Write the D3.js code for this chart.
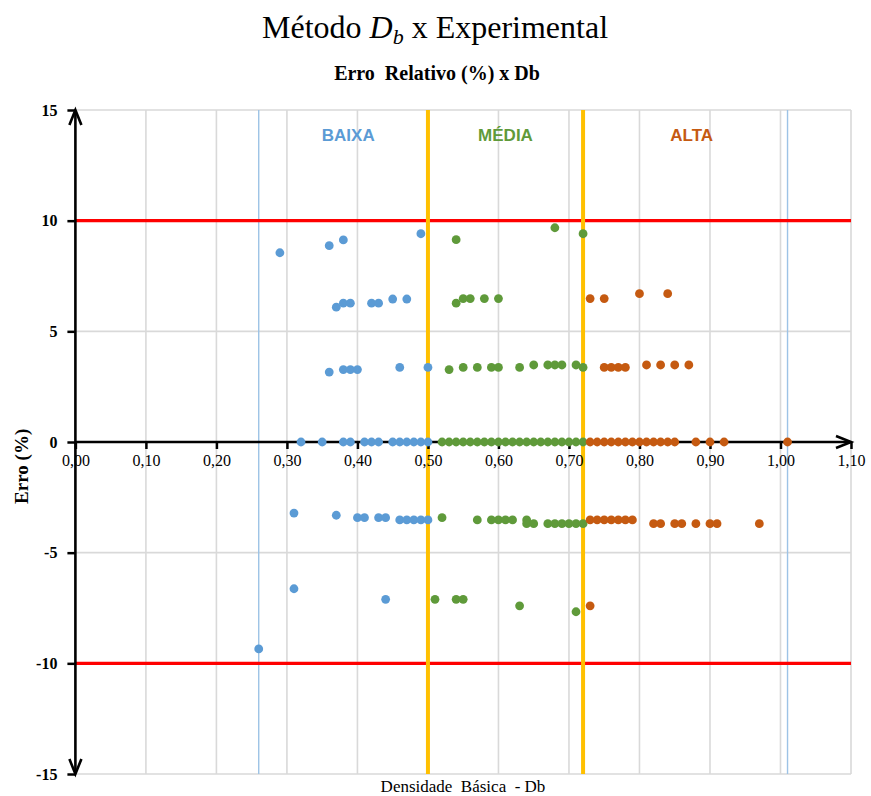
<!DOCTYPE html>
<html>
<head>
<meta charset="utf-8">
<script src="https://cdn.jsdelivr.net/npm/d3@7"></script>
<style>
  html, body { margin: 0; padding: 0; background: #fff; }
  svg { display: block; }
</style>
</head>
<body>
<svg id="chart" width="871" height="796"></svg>
<script>
// Relative error (%) against basic density, grouped by density class
const baixa = [
  [0.29, 8.55], [0.36, 8.87], [0.38, 9.13], [0.49, 9.41],
  [0.37, 6.09], [0.38, 6.27], [0.39, 6.27], [0.42, 6.27], [0.43, 6.27], [0.45, 6.46], [0.47, 6.46],
  [0.36, 3.16], [0.38, 3.27], [0.39, 3.27], [0.40, 3.27], [0.46, 3.37], [0.50, 3.37],
  [0.32, 0], [0.35, 0], [0.38, 0], [0.39, 0], [0.41, 0], [0.42, 0], [0.43, 0],
  [0.45, 0], [0.46, 0], [0.47, 0], [0.48, 0], [0.49, 0], [0.50, 0],
  [0.31, -3.21], [0.37, -3.31], [0.40, -3.42], [0.41, -3.42], [0.43, -3.42], [0.44, -3.42],
  [0.46, -3.52], [0.47, -3.52], [0.48, -3.52], [0.49, -3.52], [0.50, -3.52],
  [0.31, -6.63], [0.44, -7.11], [0.26, -9.35]
];

const media = [
  [0.54, 9.14], [0.68, 9.68], [0.72, 9.41],
  [0.54, 6.27], [0.55, 6.48], [0.56, 6.48], [0.58, 6.48], [0.60, 6.48],
  [0.53, 3.27], [0.55, 3.37], [0.57, 3.37], [0.59, 3.37], [0.60, 3.37], [0.63, 3.37],
  [0.65, 3.48], [0.67, 3.48], [0.68, 3.48], [0.69, 3.48], [0.71, 3.48], [0.72, 3.37],
  [0.52, 0], [0.53, 0], [0.54, 0], [0.55, 0], [0.56, 0], [0.57, 0], [0.58, 0],
  [0.59, 0], [0.60, 0], [0.61, 0], [0.62, 0], [0.63, 0], [0.64, 0], [0.65, 0],
  [0.66, 0], [0.67, 0], [0.68, 0], [0.69, 0], [0.70, 0], [0.71, 0], [0.72, 0],
  [0.52, -3.42], [0.57, -3.52], [0.59, -3.52], [0.60, -3.52], [0.61, -3.52], [0.62, -3.52],
  [0.64, -3.52], [0.64, -3.69], [0.65, -3.69], [0.67, -3.69], [0.68, -3.69], [0.69, -3.69],
  [0.70, -3.69], [0.71, -3.69], [0.72, -3.69],
  [0.51, -7.11], [0.54, -7.11], [0.55, -7.11], [0.63, -7.40], [0.71, -7.67]
];

const alta = [
  [0.73, 6.48], [0.75, 6.48], [0.80, 6.70], [0.84, 6.70],
  [0.75, 3.37], [0.76, 3.37], [0.77, 3.37], [0.78, 3.37],
  [0.81, 3.48], [0.83, 3.48], [0.85, 3.48], [0.87, 3.48],
  [0.73, 0], [0.74, 0], [0.75, 0], [0.76, 0], [0.77, 0], [0.78, 0], [0.79, 0],
  [0.80, 0], [0.81, 0], [0.82, 0], [0.83, 0], [0.84, 0], [0.85, 0],
  [0.88, 0], [0.90, 0], [0.92, 0], [1.01, 0],
  [0.73, -3.52], [0.74, -3.52], [0.75, -3.52], [0.76, -3.52], [0.77, -3.52], [0.78, -3.52], [0.79, -3.52],
  [0.82, -3.69], [0.83, -3.69], [0.85, -3.69], [0.86, -3.69], [0.88, -3.69],
  [0.90, -3.69], [0.91, -3.69], [0.97, -3.69],
  [0.73, -7.40]
];

const xTicks = [0, 0.1, 0.2, 0.3, 0.4, 0.5, 0.6, 0.7, 0.8, 0.9, 1.0, 1.1];
const yTicks = [-15, -10, -5, 0, 5, 10, 15];
const errorLimits = [10, -10];          // acceptable error band
const classBounds = [0.50, 0.72];       // BAIXA | MÉDIA | ALTA
const rangeBounds = [0.26, 1.01];       // sampled density range
const classLabels = [
  { text: "BAIXA", x: 0.387, color: "#5b9bd5" },
  { text: "MÉDIA", x: 0.61, color: "#5f9a3a" },
  { text: "ALTA",  x: 0.874, color: "#c55a11" }
];

const series = [
  { name: "BAIXA", data: baixa, color: "#5b9bd5" },
  { name: "MÉDIA", data: media, color: "#5f9a3a" },
  { name: "ALTA",  data: alta,  color: "#c55a11" }
];

const svg = d3.select("#chart");
const margin = { left: 75.4, right: 20, top: 110, bottom: 22 };
const W = 871, H = 796;

const x = d3.scaleLinear().domain([0, 1.1]).range([margin.left, W - margin.right]);
const y = d3.scaleLinear().domain([-15, 15]).range([H - margin.bottom, margin.top]);

const serif = "Liberation Serif";
const sans = "Liberation Sans";

// Titles
const title = svg.append("text")
  .attr("x", 435).attr("y", 38)
  .attr("text-anchor", "middle")
  .attr("font-family", serif).attr("font-size", 32)
  .attr("fill", "#000");
title.append("tspan").text("Método ");
title.append("tspan").attr("font-style", "italic").text("D");
title.append("tspan").attr("font-style", "italic").attr("font-size", 22).attr("dy", 6).text("b");
title.append("tspan").attr("dy", -6).text(" x Experimental");

svg.append("text")
  .attr("x", 437).attr("y", 80)
  .attr("text-anchor", "middle")
  .attr("font-family", serif).attr("font-size", 20).attr("font-weight", "bold")
  .attr("fill", "#000")
  .attr("xml:space", "preserve")
  .text("Erro  Relativo (%) x Db");

// Grid
const grid = svg.append("g");
grid.selectAll("line.v").data(xTicks.slice(1)).join("line")
  .attr("x1", d => x(d)).attr("x2", d => x(d))
  .attr("y1", y(15)).attr("y2", y(-15))
  .attr("stroke", "#d9d9d9").attr("stroke-width", 1.6);
grid.selectAll("line.h").data(yTicks).join("line")
  .attr("x1", x(0)).attr("x2", x(1.1))
  .attr("y1", d => y(d)).attr("y2", d => y(d))
  .attr("stroke", "#d9d9d9").attr("stroke-width", 1.6);

// Reference lines
svg.selectAll("line.range").data(rangeBounds).join("line")
  .attr("x1", d => x(d)).attr("x2", d => x(d))
  .attr("y1", y(15)).attr("y2", y(-15))
  .attr("stroke", "#9dc3e6").attr("stroke-width", 1.4);
svg.selectAll("line.limit").data(errorLimits).join("line")
  .attr("x1", x(0)).attr("x2", x(1.1))
  .attr("y1", d => y(d)).attr("y2", d => y(d))
  .attr("stroke", "#ff0000").attr("stroke-width", 3.2);
svg.selectAll("line.bound").data(classBounds).join("line")
  .attr("x1", d => x(d)).attr("x2", d => x(d))
  .attr("y1", y(15)).attr("y2", y(-15))
  .attr("stroke", "#ffc000").attr("stroke-width", 4);

// Class labels
svg.selectAll("text.cls").data(classLabels).join("text")
  .attr("x", d => x(d.x)).attr("y", 141)
  .attr("text-anchor", "middle")
  .attr("font-family", sans).attr("font-size", 17).attr("font-weight", "bold")
  .attr("fill", d => d.color)
  .text(d => d.text);

// Axes
const axisX = d3.axisBottom(x).tickValues(xTicks).tickSize(7)
  .tickFormat(d => d3.format(".2f")(d).replace(".", ","));
const gx = svg.append("g").attr("transform", `translate(0,${y(0)})`).call(axisX);
gx.select(".domain").remove();
gx.selectAll(".tick line").attr("stroke", "#000").attr("stroke-width", 2.5);
gx.selectAll(".tick text")
  .attr("font-family", serif).attr("font-size", 16).attr("fill", "#000")
  .attr("y", 13).attr("dy", "0.71em");

const axisY = d3.axisLeft(y).tickValues(yTicks).tickSize(8).tickFormat(d => String(d));
const gy = svg.append("g").attr("transform", `translate(${x(0)},0)`).call(axisY);
gy.select(".domain").remove();
gy.selectAll(".tick line").attr("stroke", "#000").attr("stroke-width", 2.5);
gy.selectAll(".tick text")
  .attr("font-family", serif).attr("font-size", 16).attr("font-weight", "bold")
  .attr("fill", "#000").attr("x", -18);

// Axis lines with arrowheads
svg.append("line")
  .attr("x1", x(0)).attr("x2", x(1.1) - 1)
  .attr("y1", y(0)).attr("y2", y(0))
  .attr("stroke", "#000").attr("stroke-width", 2.6);
svg.append("line")
  .attr("x1", x(0)).attr("x2", x(0))
  .attr("y1", y(15) + 1).attr("y2", y(-15) - 1)
  .attr("stroke", "#000").attr("stroke-width", 2.6);

const arrow = (tipX, tipY, dx, dy) => {
  // open chevron pointing along (dx, dy)
  const len = 15, half = 6;
  const px = -dy, py = dx;
  const bx = tipX - dx * len, by = tipY - dy * len;
  svg.append("path")
    .attr("d", `M${bx + px * half},${by + py * half}L${tipX},${tipY}L${bx - px * half},${by - py * half}`)
    .attr("fill", "none").attr("stroke", "#000").attr("stroke-width", 2.6)
    .attr("stroke-linejoin", "miter");
};
arrow(x(1.1), y(0), 1, 0);
arrow(x(0), y(15), 0, -1);
arrow(x(0), y(-15), 0, 1);

// Axis titles
svg.append("text")
  .attr("transform", `translate(28,${y(-1.1)}) rotate(-90)`)
  .attr("text-anchor", "middle")
  .attr("font-family", serif).attr("font-size", 19).attr("font-weight", "bold")
  .attr("fill", "#000")
  .text("Erro (%)");

svg.append("text")
  .attr("x", 463).attr("y", 792)
  .attr("text-anchor", "middle")
  .attr("font-family", serif).attr("font-size", 17)
  .attr("fill", "#000")
  .attr("xml:space", "preserve")
  .text("Densidade  Básica  - Db");

// Points
series.forEach(s => {
  svg.append("g").selectAll("circle").data(s.data).join("circle")
    .attr("cx", d => x(d[0])).attr("cy", d => y(d[1]))
    .attr("r", 4.4)
    .attr("fill", s.color);
});
</script>
</body>
</html>
